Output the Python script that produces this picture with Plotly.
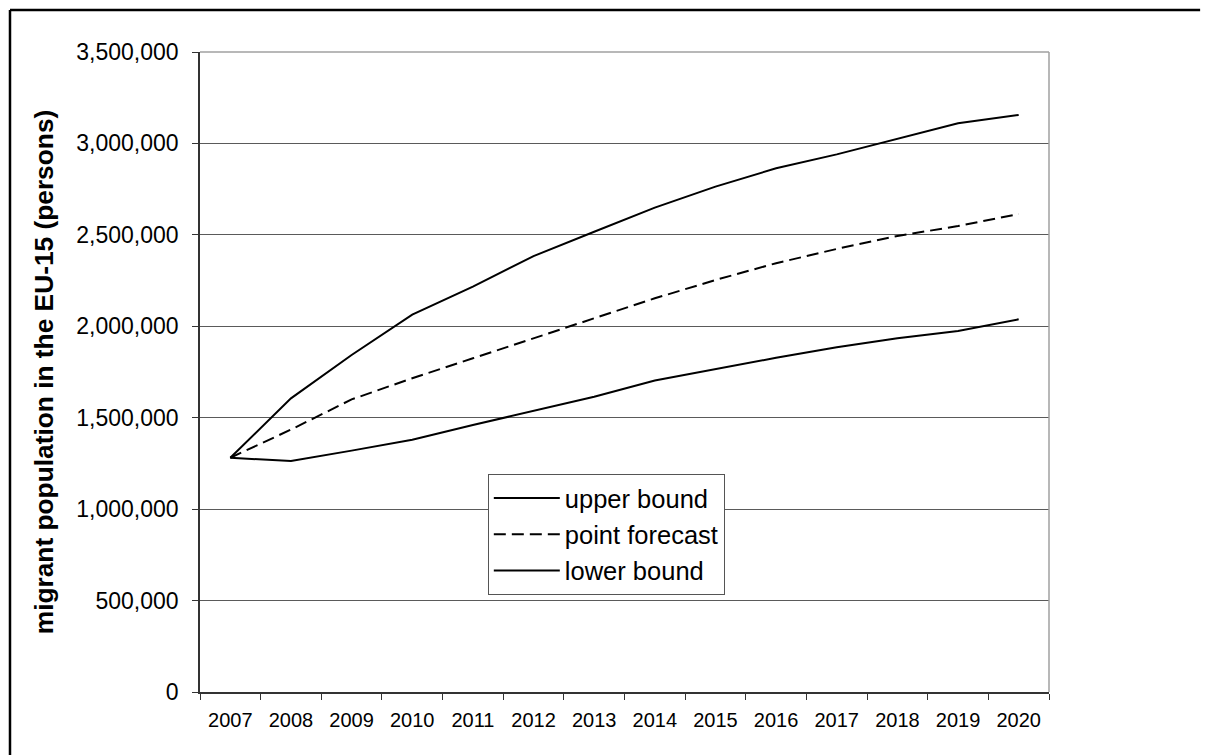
import plotly.graph_objects as go

years = ["2007", "2008", "2009", "2010", "2011", "2012", "2013",
         "2014", "2015", "2016", "2017", "2018", "2019", "2020"]
upper_bound = [1281000, 1606000, 1843000, 2064000, 2217000, 2384000, 2517000,
               2649000, 2764000, 2864000, 2940000, 3023000, 3110000, 3156000]
point_forecast = [1281000, 1435000, 1600000, 1716000, 1825000, 1935000, 2047000,
                  2153000, 2253000, 2345000, 2423000, 2494000, 2548000, 2614000]
lower_bound = [1281000, 1263000, 1320000, 1380000, 1460000, 1539000, 1615000,
               1703000, 1765000, 1828000, 1885000, 1934000, 1974000, 2038000]

FONT = "Liberation Sans, Arial, sans-serif"

fig = go.Figure()
fig.add_trace(go.Scatter(x=years, y=upper_bound, mode="lines", name="upper bound",
                         line=dict(color="black", width=2)))
fig.add_trace(go.Scatter(x=years, y=point_forecast, mode="lines", name="point forecast",
                         line=dict(color="black", width=2, dash="12px,6px")))
fig.add_trace(go.Scatter(x=years, y=lower_bound, mode="lines", name="lower bound",
                         line=dict(color="black", width=2)))

fig.update_layout(
    width=1216, height=755,
    margin=dict(l=192, r=175, t=44, b=71),
    paper_bgcolor="white", plot_bgcolor="white",
    font=dict(family=FONT, color="black"),
    showlegend=True,
    legend=dict(x=0.339, y=0.3406, xanchor="left", yanchor="top",
                bgcolor="white", bordercolor="#555555", borderwidth=1,
                font=dict(size=25.5, family=FONT, color="black"),
                tracegroupgap=0, itemwidth=66),
    xaxis=dict(type="category", range=[-0.5, 13.5], tickson="boundaries",
               ticks="outside", ticklen=6, tickcolor="#333333",
               showline=True, linecolor="#333333", linewidth=1.5,
               showgrid=False, zeroline=False,
               tickfont=dict(size=20, family=FONT, color="black"),
               ticklabelstandoff=9),
    yaxis=dict(range=[0, 3500000], dtick=500000, tickformat=",",
               ticks="outside", ticklen=6, tickcolor="#333333",
               showline=True, linecolor="#333333", linewidth=1.5,
               showgrid=True, gridcolor="#5a5a5a", gridwidth=1,
               zeroline=False,
               tickfont=dict(size=23, family=FONT, color="black"),
               ticklabelstandoff=9,
               title=dict(text="<b>migrant population in the EU-15 (persons)</b>",
                          font=dict(size=26.3, family=FONT, color="black"),
                          standoff=15)),
    shapes=[
        dict(type="line", xref="paper", yref="paper", x0=0, x1=1, y0=1, y1=1,
             line=dict(color="#a0a0a0", width=1.5)),
        dict(type="line", xref="paper", yref="paper", x0=1, x1=1, y0=0, y1=1,
             line=dict(color="#a0a0a0", width=1.5)),
        dict(type="line", xref="paper", yref="paper",
             x0=-0.2238, x1=-0.2238, y0=1.0655, y1=-0.2,
             line=dict(color="black", width=2.5)),
        dict(type="line", xref="paper", yref="paper",
             x0=-0.2238, x1=1.178, y0=1.0655, y1=1.0655,
             line=dict(color="black", width=2.5)),
    ],
)

fig.write_html("out.html")
